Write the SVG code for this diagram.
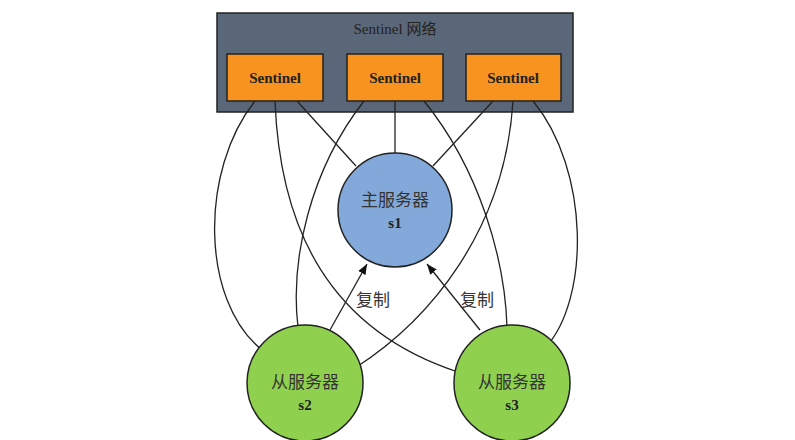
<svg xmlns="http://www.w3.org/2000/svg" width="795" height="440" viewBox="0 0 795 440">
<style>
.e{fill:none;stroke:#222;stroke-width:1.3}
.s{fill:#f7931e;stroke:#222;stroke-width:1.5}
.t{font-family:"Liberation Serif","Noto Sans CJK SC",serif;font-weight:bold;font-size:15px;fill:#222;text-anchor:middle}
.c{font-family:"Noto Sans CJK SC",sans-serif;font-size:17px;fill:#333;text-anchor:middle}
</style>
<defs><marker id="a" viewBox="0 0 10 10" refX="10" refY="5" markerWidth="8" markerHeight="8" orient="auto"><path d="M0,1 L10,5 L0,9 z" fill="#111"/></marker></defs>
<rect width="795" height="440" fill="#fff"/>
<g id="network"><rect x="217" y="13" width="356" height="99" fill="#5a6778" stroke="#222" stroke-width="1.5"/>
<text class="t" x="395" y="34" font-weight="normal" style="font-weight:normal">Sentinel 网络</text></g>
<g id="edges">
<path class="e" d="M297,101 L356,166"/>
<path class="e" d="M395,101 L395,153"/>
<path class="e" d="M493,101 L433,166"/>
<path class="e" d="M255,101 C200,170 200,300 262,350"/>
<path class="e" d="M275,101 C280,230 330,330 458,372"/>
<path class="e" d="M364,101 C310,170 290,260 298,327"/>
<path class="e" d="M424,101 C480,170 505,260 507,327"/>
<path class="e" d="M513,101 C505,230 430,320 355,368"/>
<path class="e" d="M533,101 C590,170 590,300 545,348"/>
<path class="e" d="M330,330 L367,264" marker-end="url(#a)"/>
<path class="e" d="M480,330 L427,264" marker-end="url(#a)"/>
</g>
<g id="s_1"><rect class="s" x="227" y="54" width="96" height="47"/><text class="t" x="275" y="83">Sentinel</text></g>
<g id="s_2"><rect class="s" x="347" y="54" width="96" height="47"/><text class="t" x="395" y="83">Sentinel</text></g>
<g id="s_3"><rect class="s" x="466" y="54" width="95" height="47"/><text class="t" x="513" y="83">Sentinel</text></g>
<g id="s1"><circle cx="395" cy="210" r="57" fill="#82a9d9" stroke="#222" stroke-width="1.5"/>
<text class="c" x="395" y="206">主服务器</text><text class="t" x="395" y="228">s1</text></g>
<g id="s2"><circle cx="305" cy="383" r="58" fill="#8fd14f" stroke="#222" stroke-width="1.5"/>
<text class="c" x="305" y="388">从服务器</text><text class="t" x="305" y="410">s2</text></g>
<g id="s3"><circle cx="512" cy="383" r="58" fill="#8fd14f" stroke="#222" stroke-width="1.5"/>
<text class="c" x="512" y="388">从服务器</text><text class="t" x="512" y="410">s3</text></g>
<g id="labels"><text class="c" x="373" y="306">复制</text><text class="c" x="477" y="306">复制</text></g>
</svg>
